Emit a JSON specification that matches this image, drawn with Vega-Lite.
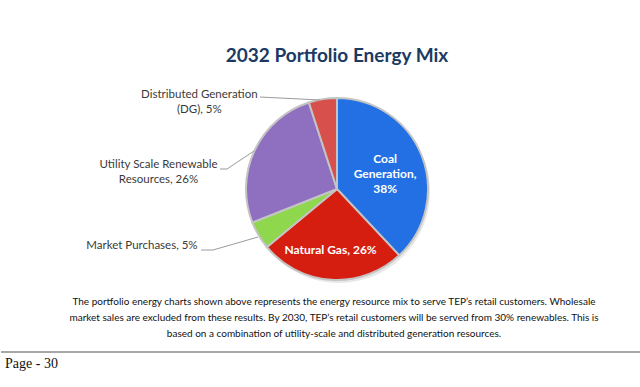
{
  "$schema": "https://vega.github.io/schema/vega-lite/v6.json",
  "width": 640,
  "height": 387,
  "autosize": {"type": "fit", "contains": "padding"},
  "padding": 0,
  "background": "white",
  "config": {"view": {"stroke": null}},
  "data": {
    "values": [
      {"name": "Coal Generation", "value": 38, "k": 1, "inner": "Coal\nGeneration,\n38%", "outer": ""},
      {"name": "Natural Gas", "value": 26, "k": 2, "inner": "Natural Gas, 26%", "outer": ""},
      {"name": "Market Purchases", "value": 5, "k": 3, "inner": "", "outer": "Market Purchases, 5%"},
      {"name": "Utility Scale Renewable Resources", "value": 26, "k": 4, "inner": "", "outer": "Utility Scale Renewable\nResources, 26%"},
      {"name": "Distributed Generation (DG)", "value": 5, "k": 5, "inner": "", "outer": "Distributed Generation\n(DG), 5%"}
    ]
  },
  "layer": [
    {
      "mark": {"type": "arc", "x": 338, "y": 192, "outerRadius": 91, "fill": "#d8d8d8", "opacity": 0.6},
      "encoding": {
        "theta": {"field": "value", "type": "quantitative", "stack": true},
        "order": {"field": "k", "type": "quantitative"}
      }
    },
    {
      "mark": {"type": "arc", "x": 336, "y": 189, "outerRadius": 91, "stroke": "#c4c4c4", "strokeWidth": 2},
      "encoding": {
        "theta": {"field": "value", "type": "quantitative", "stack": true},
        "order": {"field": "k", "type": "quantitative"},
        "color": {
          "field": "name", "type": "nominal", "legend": null,
          "scale": {
            "domain": ["Coal Generation", "Natural Gas", "Market Purchases", "Utility Scale Renewable Resources", "Distributed Generation (DG)"],
            "range": ["#2370E4", "#D61E10", "#8FD84E", "#8E6FC0", "#D8504C"]
          }
        }
      }
    },
    {
      "mark": {"type": "text", "x": 336, "y": 189, "radius": 55, "dx": -3, "dy": {"expr": "datum.k == 1 ? -10 : 6"}, "lineBreak": "\n", "lineHeight": 15, "align": "center", "baseline": "middle", "font": "Lato", "fontWeight": "bold", "fontSize": 12, "fill": "white"},
      "encoding": {
        "theta": {"field": "value", "type": "quantitative", "stack": true},
        "order": {"field": "k", "type": "quantitative"},
        "text": {"field": "inner"}
      }
    },
    {
      "mark": {
        "type": "text", "x": 336, "y": 189, "radius": 100, "lineBreak": "\n", "lineHeight": 15,
        "align": "center", "baseline": "middle", "font": "Lato", "fontSize": 11.5, "fill": "#3a3a3a",
        "dx": {"expr": "datum.k == 3 ? -109 : datum.k == 4 ? -88 : -122"},
        "dy": {"expr": "datum.k == 3 ? 6 : datum.k == 4 ? 19 : 5"}
      },
      "encoding": {
        "theta": {"field": "value", "type": "quantitative", "stack": true},
        "order": {"field": "k", "type": "quantitative"},
        "text": {"field": "outer"}
      }
    },
    {
      "data": {"values": [{}]},
      "mark": {"type": "rule", "stroke": "#9a9a9a", "strokeWidth": 1},
      "encoding": {"x": {"value": 259}, "y": {"value": 97}, "x2": {"value": 319}, "y2": {"value": 100}}
    },
    {
      "data": {"values": [{}]},
      "mark": {"type": "rule", "stroke": "#9a9a9a", "strokeWidth": 1},
      "encoding": {"x": {"value": 219}, "y": {"value": 169}, "x2": {"value": 226}, "y2": {"value": 169}}
    },
    {
      "data": {"values": [{}]},
      "mark": {"type": "rule", "stroke": "#9a9a9a", "strokeWidth": 1},
      "encoding": {"x": {"value": 226}, "y": {"value": 169}, "x2": {"value": 253}, "y2": {"value": 151}}
    },
    {
      "data": {"values": [{}]},
      "mark": {"type": "rule", "stroke": "#9a9a9a", "strokeWidth": 1},
      "encoding": {"x": {"value": 200}, "y": {"value": 250}, "x2": {"value": 212}, "y2": {"value": 250}}
    },
    {
      "data": {"values": [{}]},
      "mark": {"type": "rule", "stroke": "#9a9a9a", "strokeWidth": 1},
      "encoding": {"x": {"value": 212}, "y": {"value": 250}, "x2": {"value": 257}, "y2": {"value": 237}}
    },
    {
      "data": {"values": [{"t": "2032 Portfolio Energy Mix"}]},
      "mark": {"type": "text", "x": 336, "y": 56, "align": "center", "baseline": "middle", "font": "Lato", "fontWeight": "bold", "fontSize": 19, "fill": "#1B3A63"},
      "encoding": {"text": {"field": "t"}}
    },
    {
      "data": {"values": [{"t": "The portfolio energy charts shown above represents the energy resource mix to serve TEP\u2019s retail customers.  Wholesale\nmarket sales are excluded from these results.  By 2030, TEP\u2019s retail customers will be served from 30% renewables.  This is\nbased on a combination of utility-scale and distributed generation resources."}]},
      "mark": {"type": "text", "x": 333, "y": 302, "align": "center", "baseline": "middle", "lineBreak": "\n", "lineHeight": 16, "font": "Lato", "fontSize": 10, "fill": "#111111"},
      "encoding": {"text": {"field": "t"}}
    },
    {
      "data": {"values": [{}]},
      "mark": {"type": "rule", "stroke": "#8a8a8a", "strokeWidth": 1.5},
      "encoding": {"x": {"value": 0}, "y": {"value": 352}, "x2": {"value": 640}, "y2": {"value": 352}}
    },
    {
      "data": {"values": [{"t": "Page - 30"}]},
      "mark": {"type": "text", "x": 4, "y": 364, "align": "left", "baseline": "middle", "font": "Liberation Serif", "fontSize": 14, "fill": "#111111"},
      "encoding": {"text": {"field": "t"}}
    }
  ]
}
